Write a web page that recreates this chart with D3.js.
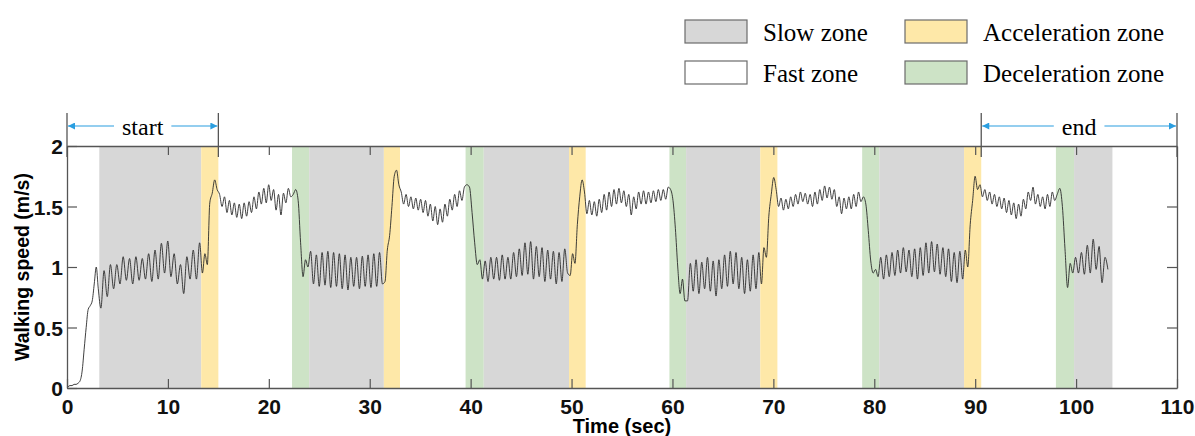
<!DOCTYPE html>
<html>
<head>
<meta charset="utf-8">
<script src="https://cdn.jsdelivr.net/npm/d3@7"></script>
<style>
  body { margin: 0; background: #fff; }
  svg { display: block; }
  .tick text { font-family: "Liberation Sans", Arial, sans-serif; font-weight: bold; font-size: 21px; fill: #111; }
</style>
</head>
<body>
<svg id="chart" width="1195" height="436"></svg>
<script>
// zone boundaries (sec) and what each zone is
const zoneEdges = [0, 3.2, 13.3, 15.0, 22.3, 24.0, 31.4, 33.0, 39.5, 41.3, 49.75, 51.4,
  59.7, 61.35, 68.7, 70.4, 78.8, 80.5, 88.9, 90.6, 98.0, 99.8, 103.6];
const zoneKinds = ["none", "slow", "accel", "fast", "decel", "slow", "accel", "fast", "decel",
  "slow", "accel", "fast", "decel", "slow", "accel", "fast", "decel", "slow", "accel", "fast",
  "decel", "slow"];
const traceEnd = 103.3;

// walking speed (m/s), read per zone in time order
const speedStart = [0.01, 0.02, 0.02, 0.03, 0.03, 0.04, 0.06, 0.14, 0.32, 0.5, 0.65, 0.68, 0.72, 0.86, 1.0, 0.82];
const slow1 = [0.66, 0.97, 0.755, 1.02, 0.82, 1.02, 0.86, 1.085, 0.89, 1.07, 0.86, 1.085, 0.89, 1.07, 0.9, 1.11,
  0.88, 1.14, 0.9, 1.196, 0.95, 1.215, 0.92, 1.11, 0.86, 1.02, 0.78, 1.085, 0.9, 1.14, 0.9, 1.2];
const accel1 = [0.95, 1.11, 1.02, 1.53, 1.61, 1.72, 1.64];
const fast1 = [1.6, 1.5, 1.58, 1.45, 1.55, 1.43, 1.53, 1.41, 1.52, 1.4, 1.53, 1.42, 1.54, 1.45, 1.58, 1.48, 1.62,
  1.52, 1.65, 1.53, 1.68, 1.55, 1.64, 1.47, 1.6, 1.43, 1.61, 1.53, 1.65, 1.58];
const decel1 = [1.6, 1.64, 1.55, 1.2, 0.92, 1.06, 1.0];
const slow2 = [1.13, 0.86, 1.1, 0.84, 1.12, 0.85, 1.13, 0.83, 1.12, 0.84, 1.11, 0.82, 1.1, 0.81, 1.08, 0.84,
  1.08, 0.82, 1.09, 0.84, 1.1, 0.83, 1.11, 0.84, 1.12, 0.86];
const accel2 = [0.88, 1.14, 1.26, 1.5, 1.75, 1.8, 1.68];
const fast2 = [1.62, 1.52, 1.6, 1.5, 1.58, 1.48, 1.57, 1.47, 1.56, 1.45, 1.55, 1.42, 1.52, 1.38, 1.5, 1.35,
  1.48, 1.37, 1.52, 1.42, 1.56, 1.47, 1.6, 1.5, 1.63, 1.55, 1.66];
const decel2 = [1.68, 1.66, 1.45, 1.2, 1.02, 1.06, 0.9];
const slow3 = [1.05, 0.88, 1.08, 0.9, 1.08, 0.89, 1.1, 0.9, 1.08, 0.9, 1.12, 0.92, 1.15, 0.93, 1.2, 0.94,
  1.21, 0.9, 1.17, 0.92, 1.16, 0.88, 1.14, 0.9, 1.13, 0.86, 1.12, 0.88, 1.15, 0.95];
const accel3 = [0.93, 1.11, 1.03, 1.35, 1.58, 1.72, 1.62];
const fast3 = [1.44, 1.55, 1.43, 1.54, 1.42, 1.56, 1.45, 1.6, 1.47, 1.62, 1.5, 1.64, 1.52, 1.65, 1.53, 1.63,
  1.5, 1.6, 1.43, 1.58, 1.48, 1.62, 1.52, 1.63, 1.52, 1.62, 1.53, 1.63, 1.54, 1.64, 1.55, 1.64, 1.56, 1.66];
const decel3 = [1.64, 1.55, 1.32, 1.0, 0.78, 0.9, 0.72];
const slow4 = [0.72, 1.03, 0.8, 1.06, 0.78, 1.04, 0.82, 1.08, 0.8, 1.05, 0.76, 1.06, 0.82, 1.1, 0.84, 1.13,
  0.86, 1.12, 0.82, 1.08, 0.78, 1.06, 0.8, 1.1, 0.82, 1.12];
const accel4 = [0.86, 1.16, 1.08, 1.42, 1.6, 1.74, 1.64];
const fast4 = [1.5, 1.57, 1.47, 1.56, 1.48, 1.58, 1.5, 1.6, 1.52, 1.62, 1.54, 1.61, 1.52, 1.6, 1.5, 1.62,
  1.52, 1.64, 1.55, 1.67, 1.57, 1.66, 1.56, 1.64, 1.5, 1.58, 1.44, 1.57, 1.48, 1.58, 1.48, 1.6, 1.5, 1.62, 1.54];
const decel4 = [1.58, 1.52, 1.3, 1.05, 0.95, 0.98, 0.92];
const slow5 = [1.08, 0.9, 1.1, 0.92, 1.12, 0.93, 1.14, 0.95, 1.16, 0.96, 1.14, 0.92, 1.15, 0.9, 1.16, 0.93,
  1.2, 0.95, 1.21, 0.96, 1.19, 0.94, 1.16, 0.92, 1.15, 0.88, 1.12, 0.87, 1.13, 0.9];
const accel5 = [1.14, 1.0, 1.35, 1.55, 1.75, 1.64, 1.68];
const fast5 = [1.58, 1.64, 1.55, 1.62, 1.52, 1.6, 1.5, 1.58, 1.48, 1.57, 1.45, 1.55, 1.43, 1.53, 1.4, 1.52,
  1.42, 1.56, 1.48, 1.62, 1.55, 1.66, 1.52, 1.6, 1.5, 1.58, 1.48, 1.6, 1.5, 1.62, 1.55];
const decel5 = [1.6, 1.65, 1.5, 1.15, 0.83, 1.03, 0.95];
const slow6 = [1.08, 0.95, 1.12, 0.94, 1.18, 0.95, 1.23, 0.98, 1.17, 0.87, 1.08, 0.98];

const speedParts = [speedStart, slow1, accel1, fast1, decel1, slow2, accel2, fast2, decel2, slow3, accel3,
  fast3, decel3, slow4, accel4, fast4, decel4, slow5, accel5, fast5, decel5, slow6];

const xTicks = [0, 10, 20, 30, 40, 50, 60, 70, 80, 90, 100, 110];
const yTicks = [0, 0.5, 1, 1.5, 2];
const legendLabels = ["Slow zone", "Fast zone", "Acceleration zone", "Deceleration zone"];
const legendKinds = ["slow", "fast", "accel", "decel"];
const spanLabels = ["start", "end"];
const spanFrom = [0, 90.6];
const spanTo = [15, 110];

const zoneColor = { slow: "#d7d7d7", fast: "#ffffff", accel: "#fee8a8", decel: "#cde3c6" };

const svg = d3.select("#chart");
const margin = { top: 146, right: 18, bottom: 48, left: 67 };
const width = 1195 - margin.left - margin.right;
const height = 436 - margin.top - margin.bottom;

const x = d3.scaleLinear().domain([0, 110]).range([margin.left, margin.left + width]);
const y = d3.scaleLinear().domain([0, 2]).range([margin.top + height, margin.top]);

// shaded zones
const zones = zoneKinds.map((k, i) => ({ kind: k, t0: zoneEdges[i], t1: zoneEdges[i + 1] }))
  .filter(d => d.kind !== "none" && d.kind !== "fast");
svg.append("g").selectAll("rect")
  .data(zones)
  .enter()
  .append("rect")
  .attr("x", d => x(d.t0))
  .attr("y", y(2))
  .attr("width", d => x(d.t1) - x(d.t0))
  .attr("height", y(0) - y(2))
  .attr("fill", d => zoneColor[d.kind]);

// speed trace, samples spread evenly in each zone
const points = [];
speedParts.forEach((vals, i) => {
  const t0 = zoneEdges[i];
  const t1 = i === speedParts.length - 1 ? traceEnd : zoneEdges[i + 1];
  const step = (t1 - t0) / vals.length;
  vals.forEach((v, j) => points.push([t0 + (j + 0.5) * step, v]));
});

const line = d3.line()
  .x(d => x(d[0]))
  .y(d => y(d[1]))
  .curve(d3.curveMonotoneX);

svg.append("path")
  .datum(points)
  .attr("d", line)
  .attr("fill", "none")
  .attr("stroke", "#2a2a2a")
  .attr("stroke-width", 0.9);

// axes (inner ticks all round)
const frameColor = "#555";
function styleAxis(g) {
  g.selectAll(".domain").attr("stroke", frameColor).attr("stroke-width", 1.3);
  g.selectAll(".tick line").attr("stroke", frameColor).attr("stroke-width", 1.2);
}

svg.append("g")
  .attr("transform", `translate(0,${y(0)})`)
  .call(d3.axisBottom(x).tickValues(xTicks).tickSizeInner(-9).tickSizeOuter(0).tickPadding(11).tickFormat(d3.format("d")))
  .call(styleAxis);

svg.append("g")
  .attr("transform", `translate(0,${y(2)})`)
  .call(d3.axisTop(x).tickValues(xTicks.slice(1, -1)).tickSizeInner(-9).tickSizeOuter(0).tickFormat(""))
  .call(styleAxis);

svg.append("g")
  .attr("transform", `translate(${x(0)},0)`)
  .call(d3.axisLeft(y).tickValues(yTicks).tickSizeInner(-10).tickSizeOuter(0).tickPadding(4).tickFormat(d => String(d)))
  .call(styleAxis)
  .selectAll(".tick text").attr("dy", "0.36em");

svg.append("g")
  .attr("transform", `translate(${x(110)},0)`)
  .call(d3.axisRight(y).tickValues(yTicks.slice(1, -1)).tickSizeInner(-10).tickSizeOuter(0).tickFormat(""))
  .call(styleAxis);

// axis titles
svg.append("text")
  .attr("x", (x(0) + x(110)) / 2)
  .attr("y", 433)
  .attr("text-anchor", "middle")
  .style("font-family", "Liberation Sans, Arial, sans-serif")
  .style("font-weight", "bold")
  .style("font-size", "20px")
  .text("Time (sec)");

svg.append("text")
  .attr("transform", `translate(29,${(y(0) + y(2)) / 2}) rotate(-90)`)
  .attr("text-anchor", "middle")
  .style("font-family", "Liberation Sans, Arial, sans-serif")
  .style("font-weight", "bold")
  .style("font-size", "19.5px")
  .text("Walking speed (m/s)");

// start / end spans
const arrowColor = "#2a9ee0";
const defs = svg.append("defs");
defs.append("marker")
  .attr("id", "arrowHead")
  .attr("viewBox", "0 0 10 10")
  .attr("refX", 10).attr("refY", 5)
  .attr("markerWidth", 9).attr("markerHeight", 7)
  .attr("markerUnits", "userSpaceOnUse")
  .attr("orient", "auto-start-reverse")
  .append("path")
  .attr("d", "M0,0 L10,5 L0,10 z")
  .attr("fill", arrowColor);

const arrowY = 126;
spanLabels.forEach((label, i) => {
  const a = x(spanFrom[i]);
  const b = x(spanTo[i]);
  const g = svg.append("g");
  // vertical markers at both ends
  [a, b].forEach(px => {
    g.append("line")
      .attr("x1", px).attr("x2", px)
      .attr("y1", 113).attr("y2", 157)
      .attr("stroke", frameColor)
      .attr("stroke-width", 1.3);
  });
  const txt = g.append("text")
    .attr("x", (a + b) / 2)
    .attr("y", 135)
    .attr("text-anchor", "middle")
    .style("font-family", "Liberation Serif, Times New Roman, serif")
    .style("font-size", "24px")
    .text(label);
  const w = txt.node().getComputedTextLength();
  const mid = (a + b) / 2;
  g.append("line")
    .attr("x1", mid - w / 2 - 8).attr("x2", a + 1)
    .attr("y1", arrowY).attr("y2", arrowY)
    .attr("stroke", arrowColor).attr("stroke-width", 1.2)
    .attr("marker-end", "url(#arrowHead)");
  g.append("line")
    .attr("x1", mid + w / 2 + 8).attr("x2", b - 1)
    .attr("y1", arrowY).attr("y2", arrowY)
    .attr("stroke", arrowColor).attr("stroke-width", 1.2)
    .attr("marker-end", "url(#arrowHead)");
});

// legend
const legend = svg.append("g");
legendLabels.forEach((label, i) => {
  const col = Math.floor(i / 2);
  const row = i % 2;
  const lx = 685 + col * 220;
  const ly = 20 + row * 41;
  legend.append("rect")
    .attr("x", lx).attr("y", ly)
    .attr("width", 62).attr("height", 23)
    .attr("fill", zoneColor[legendKinds[i]])
    .attr("stroke", "#6b6b6b")
    .attr("stroke-width", 1.2);
  legend.append("text")
    .attr("x", lx + 78)
    .attr("y", ly + 21)
    .style("font-family", "Liberation Serif, Times New Roman, serif")
    .style("font-size", "25px")
    .text(label);
});
</script>
</body>
</html>
